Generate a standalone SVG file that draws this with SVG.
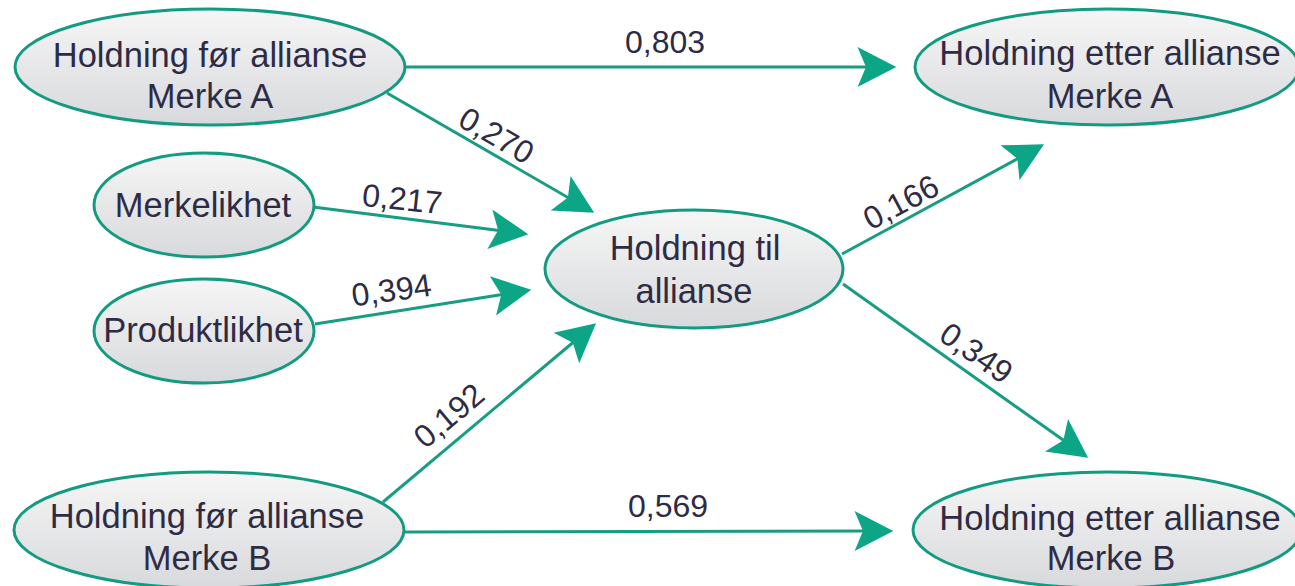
<svg xmlns="http://www.w3.org/2000/svg" width="1295" height="586" viewBox="0 0 1295 586">
<style>
.node ellipse{fill:url(#g);stroke:#139b81;stroke-width:3}
.node text{font-family:"Liberation Sans",Arial,sans-serif;font-size:34.5px;fill:#2e2b45;text-anchor:middle}
.lbl{font-family:"Liberation Sans",Arial,sans-serif;font-size:32px;fill:#2e2b45;text-anchor:middle}
.edges line{stroke:#189d83;stroke-width:3;marker-end:url(#ah)}
</style>
<defs>
<linearGradient id="g" x1="0" y1="0" x2="0" y2="1">
<stop offset="0" stop-color="#f6f6f6"/>
<stop offset="1" stop-color="#d8d9dc"/>
</linearGradient>
<marker id="ah" markerUnits="userSpaceOnUse" markerWidth="44" markerHeight="44" viewBox="-38 -21 40 42" refX="-28" refY="0" orient="auto">
<path d="M0,0 L-37,-19 L-29,0 L-37,19 Z" fill="#0ca686"/>
</marker>
</defs>
<rect width="1295" height="586" fill="#ffffff"/>
<g class="edges" id="connectors">
<line x1="405" y1="67" x2="867" y2="67"/>
<line x1="387" y1="93" x2="568.8" y2="198"/>
<line x1="313" y1="207" x2="499.2" y2="230.5"/>
<line x1="315" y1="324" x2="502.3" y2="294.4"/>
<line x1="383" y1="502" x2="573.6" y2="342"/>
<line x1="842" y1="254" x2="1018.3" y2="158.3"/>
<line x1="843" y1="284" x2="1064.2" y2="440.8"/>
<line x1="405" y1="532" x2="864" y2="531"/>
<text class="lbl" x="665" y="53">0,803</text>
<text class="lbl" transform="translate(491,145) rotate(30)">0,270</text>
<text class="lbl" transform="translate(401,210) rotate(6)">0,217</text>
<text class="lbl" transform="translate(393,301) rotate(-8)">0,394</text>
<text class="lbl" transform="translate(456,424) rotate(-40)">0,192</text>
<text class="lbl" transform="translate(906,212) rotate(-28)">0,166</text>
<text class="lbl" transform="translate(970,362) rotate(35)">0,349</text>
<text class="lbl" x="668" y="517">0,569</text>
</g>
<g class="node" id="foer-a">
<ellipse cx="210" cy="67" rx="195" ry="58"/>
<text x="210" y="67">Holdning før allianse</text>
<text x="210" y="108">Merke A</text>
</g>
<g class="node" id="merkelikhet">
<ellipse cx="204" cy="205" rx="110" ry="52"/>
<text x="203" y="217">Merkelikhet</text>
</g>
<g class="node" id="produktlikhet">
<ellipse cx="204" cy="331" rx="110" ry="52"/>
<text x="203" y="342">Produktlikhet</text>
</g>
<g class="node" id="til-allianse">
<ellipse cx="694" cy="269" rx="149" ry="59"/>
<text x="695" y="260">Holdning til</text>
<text x="694" y="303">allianse</text>
</g>
<g class="node" id="etter-a">
<ellipse cx="1107" cy="67" rx="192" ry="58"/>
<text x="1110" y="65">Holdning etter allianse</text>
<text x="1110" y="108">Merke A</text>
</g>
<g class="node" id="foer-b">
<ellipse cx="209" cy="530" rx="195" ry="58"/>
<text x="207" y="528">Holdning før allianse</text>
<text x="207" y="570">Merke B</text>
</g>
<g class="node" id="etter-b">
<ellipse cx="1107" cy="530" rx="194" ry="58"/>
<text x="1110" y="530">Holdning etter allianse</text>
<text x="1111" y="570">Merke B</text>
</g>
</svg>
